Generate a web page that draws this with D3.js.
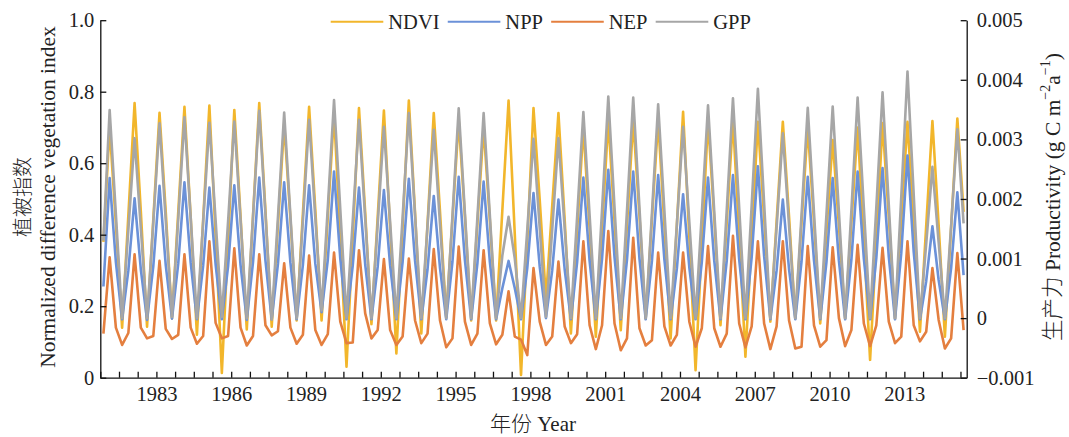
<!DOCTYPE html>
<html>
<head>
<meta charset="utf-8">
<title>NDVI and productivity, 1981-2015</title>
<style>
  body { margin: 0; background: #fff; }
  svg text { font-family: "Liberation Serif", "Noto Sans CJK SC", serif; fill: #222; }
  .cjk { font-weight: 300; }
</style>
</head>
<body>
<svg width="1069" height="437"></svg>
<script src="https://d3js.org/d3.v7.min.js"></script>
<script>
// one value per season: spring, summer, autumn, winter (2015 ends in autumn)
var years = d3.range(1981, 2016);
var yearLabels = ["1983", "1986", "1989", "1992", "1995", "1998", "2001", "2004", "2007", "2010", "2013"];
var leftTicks = [0, 0.2, 0.4, 0.6, 0.8, 1.0];
var rightTicks = [-0.001, 0, 0.001, 0.002, 0.003, 0.004, 0.005];

// NDVI (left axis)
var ndvi = [
  0.38,0.70,0.43,0.14,  0.454,0.768,0.466,0.143,  0.442,0.741,0.464,0.166,  0.462,0.758,0.449,0.12,
  0.441,0.761,0.397,0.013,  0.381,0.749,0.452,0.135,  0.452,0.768,0.466,0.143,  0.427,0.71,0.445,0.16,
  0.459,0.758,0.469,0.16,  0.45,0.74,0.396,0.031,  0.393,0.754,0.462,0.15,  0.449,0.747,0.418,0.068,
  0.422,0.775,0.46,0.124,  0.432,0.74,0.465,0.17,  0.445,0.72,0.45,0.16,  0.43,0.70,0.44,0.16,
  0.468,0.775,0.40,0.008,  0.381,0.754,0.497,0.22,  0.48,0.74,0.442,0.124,  0.412,0.70,0.418,0.115,
  0.418,0.72,0.437,0.133,  0.427,0.72,0.453,0.165,  0.443,0.72,0.425,0.11,  0.427,0.744,0.393,0.021,
  0.37,0.72,0.444,0.147,  0.434,0.72,0.40,0.059,  0.388,0.716,0.447,0.157,  0.437,0.716,0.451,0.165,
  0.433,0.70,0.436,0.152,  0.409,0.665,0.425,0.165,  0.433,0.70,0.385,0.05,  0.381,0.712,0.449,0.165,
  0.441,0.716,0.433,0.129,  0.424,0.718,0.427,0.115,  0.42,0.725,0.464
];

// productivity, g C m-2 a-1 (right axis)
var npp = [
  0.00053,0.00235,0.00094,-0.00002,  0.0008,0.00201,0.00082,-0.00003,  0.00087,0.00222,0.00089,-0.00001,  0.00091,0.00228,0.00093,-0.00002,
  0.00088,0.00219,0.0009,-0.00002,  0.00087,0.00223,0.00089,-0.00003,  0.00094,0.00236,0.00096,-0.00002,  0.00091,0.00228,0.00093,-0.00002,
  0.00089,0.00223,0.00091,0.0001,  0.00098,0.00246,0.001,-0.00002,  0.00088,0.00219,0.0009,-0.00002,  0.00086,0.00215,0.00088,-0.00002,
  0.00094,0.00234,0.00096,-0.00002,  0.00082,0.00205,0.00084,-0.00002,  0.00095,0.00237,0.00097,-0.00002,  0.00092,0.00229,0.00094,-0.00002,
  0.0005,0.00096,0.0005,-0.00002,  0.00084,0.0021,0.00086,0,  0.0008,0.00199,0.00082,-0.00002,  0.00094,0.00236,0.00096,-0.00002,
  0.001,0.00249,0.00102,-0.00002,  0.00098,0.00246,0.001,-0.00002,  0.00096,0.0024,0.00098,-0.00002,  0.00083,0.00208,0.00085,-0.00002,
  0.00094,0.00236,0.00096,-0.00002,  0.00096,0.0024,0.00098,-0.00002,  0.00102,0.00255,0.00104,-0.00002,  0.0008,0.00199,0.00082,-0.00002,
  0.00095,0.00237,0.00097,-0.00002,  0.00094,0.00235,0.00096,-0.00002,  0.00098,0.00246,0.001,-0.00002,  0.00101,0.00252,0.00103,-0.00002,
  0.00109,0.00273,0.00111,-0.00002,  0.00062,0.00154,0.00064,-0.00002,  0.00084,0.00211,0.00072
];

var nep = [
  -0.00026,0.00102,-0.00016,-0.00045,  -0.00025,0.00107,-0.00016,-0.00034,  -0.0003,0.00096,-0.00018,-0.00035,  -0.00028,0.00107,-0.00016,-0.00043,
  -0.0003,0.00129,-0.00008,-0.00034,  -0.0003,0.00117,-0.00016,-0.00046,  -0.0003,0.00107,-0.00012,-0.00029,  -0.00022,0.00092,-0.00016,-0.00043,
  -0.00028,0.00105,-0.0002,-0.00045,  -0.00027,0.0011,-0.00006,-0.00042,  -0.00041,0.00114,0.00008,-0.00034,  -0.0002,0.00099,-0.0002,-0.00045,
  -0.00031,0.001,-0.00004,-0.00042,  -0.00026,0.00116,-0.00004,-0.00049,  -0.00034,0.0012,-0.00006,-0.00045,  -0.00026,0.00114,-0.00009,-0.00044,
  -0.00028,0.00045,-0.00031,-0.00036,  -0.00062,0.00084,-0.00006,-0.00045,  -0.00031,0.00095,-0.00014,-0.00042,  -0.00027,0.00129,-0.00012,-0.00052,
  -0.00012,0.00146,-0.00009,-0.00054,  -0.00034,0.00135,-0.00017,-0.00046,  -0.00037,0.0011,-0.00014,-0.00046,  -0.00028,0.0011,-0.00006,-0.00048,
  -0.00017,0.00121,-0.00017,-0.00048,  -0.00026,0.00138,-0.00009,-0.00049,  -0.00014,0.00129,-0.00009,-0.00052,  -0.00014,0.00129,-0.00004,-0.00051,
  -0.00048,0.00121,-0.00012,-0.00048,  -0.00037,0.00119,0,-0.00047,  -0.0002,0.00123,-0.00009,-0.00047,  -0.00012,0.00118,-0.00006,-0.00042,
  -0.00031,0.00129,-0.00012,-0.00039,  -0.00023,0.00084,-0.00003,-0.00051,  -0.00034,0.00109,-0.0002
];

var gpp = [
  0.0013,0.00349,0.00174,0,  0.00148,0.00302,0.00151,0,  0.0016,0.00327,0.00164,0.00002,  0.00165,0.00337,0.00169,0,
  0.00161,0.00328,0.00164,0.00002,  0.00162,0.0033,0.00165,0,  0.0017,0.00348,0.00174,-0.00002,  0.00169,0.00345,0.00173,0,
  0.00163,0.00333,0.00167,0.00013,  0.00186,0.00366,0.00183,0,  0.00163,0.00333,0.00167,0,  0.00157,0.00321,0.00161,0,
  0.00169,0.00344,0.00172,0,  0.00155,0.00316,0.00158,0,  0.00172,0.00352,0.00176,0,  0.00169,0.00344,0.00172,0,
  0.00105,0.0017,0.001,0,  0.00148,0.00301,0.00151,0.00002,  0.00148,0.00302,0.00151,0,  0.0017,0.00346,0.00173,0,
  0.00182,0.00372,0.00186,0,  0.00181,0.0037,0.00185,0,  0.00176,0.00359,0.0018,0,  0.00157,0.00321,0.00161,0,
  0.00175,0.00357,0.00179,0,  0.00181,0.00369,0.00185,0,  0.00189,0.00385,0.00193,0,  0.00152,0.0031,0.00155,0,
  0.00173,0.00353,0.00177,0,  0.00174,0.00355,0.00178,0,  0.00181,0.0037,0.00185,0,  0.00186,0.00379,0.0019,0,
  0.00203,0.00414,0.00207,0,  0.00124,0.00254,0.00127,0,  0.00155,0.00317,0.00159
];

var series = [
  {name: "NDVI", values: ndvi, side: "left",  color: "#F2B62B"},
  {name: "NPP",  values: npp,  side: "right", color: "#6B91D8"},
  {name: "NEP",  values: nep,  side: "right", color: "#E47F3F"},
  {name: "GPP",  values: gpp,  side: "right", color: "#A6A6A6"}
];

var svg = d3.select("svg"),
    plotL = 100.3, plotR = 966.7, plotT = 20.2, plotB = 377.7;

// x in season index, first spring at 0
var x = d3.scaleLinear()
    .domain([-0.5, years.length * 4 - 1.5])
    .range([plotL, plotR]);

var yL = d3.scaleLinear().domain([0, 1]).range([plotB, plotT]);
var yR = d3.scaleLinear().domain([-0.001, 0.005]).range([plotB, plotT]);

// ticks every 3 seasons, year labels every 12
var xTicks = d3.range(-0.5, years.length * 4 - 1, 3);
function yearPos(y) { return (y - years[0]) * 4 + 0.5; }
var labelAt = {};
yearLabels.forEach(function(l) { labelAt[yearPos(+l)] = l; });

function styleAxis(g) {
  g.attr("font-size", null).attr("font-family", null);
  g.selectAll("path, line").attr("stroke", "#111").attr("stroke-width", 1.3);
  g.selectAll("text").attr("font-size", 20.5).attr("fill", "#222");
}

// lines
series.forEach(function(s) {
  var y = s.side === "left" ? yL : yR;
  svg.append("path")
      .datum(s.values)
      .attr("fill", "none")
      .attr("stroke", s.color)
      .attr("stroke-width", 2.6)
      .attr("stroke-linejoin", "round")
      .attr("d", d3.line()
        .x(function(d, i) { return x(i); })
        .y(function(d) { return y(d); }));
});

svg.append("g")
    .attr("transform", "translate(0," + plotB + ")")
    .call(d3.axisBottom(x)
      .tickValues(xTicks)
      .tickSizeInner(-6)
      .tickSizeOuter(0)
      .tickPadding(9)
      .tickFormat(function(d) { return labelAt[d] || ""; }))
    .call(styleAxis);

svg.append("g")
    .attr("transform", "translate(" + plotL + ",0)")
    .call(d3.axisLeft(yL)
      .tickValues(leftTicks)
      .tickSizeInner(-6)
      .tickSizeOuter(0)
      .tickPadding(6)
      .tickFormat(function(d) { return d === 0 ? "0" : d3.format(".1f")(d); }))
    .call(styleAxis);

svg.append("g")
    .attr("transform", "translate(" + plotR + ",0)")
    .call(d3.axisRight(yR)
      .tickValues(rightTicks)
      .tickSizeInner(-6)
      .tickSizeOuter(0)
      .tickPadding(10)
      .tickFormat(function(d) { return Math.abs(d) < 1e-9 ? "0" : d3.format(".3f")(d); }))
    .call(styleAxis);

// legend
var lx = 330.7, ly = 21.7;
var legend = svg.append("g");
series.forEach(function(s) {
  legend.append("line")
      .attr("x1", lx).attr("x2", lx + 52.6)
      .attr("y1", ly).attr("y2", ly)
      .attr("stroke", s.color)
      .attr("stroke-width", 2);
  var t = legend.append("text")
      .attr("x", lx + 57.6)
      .attr("y", ly + 7)
      .attr("font-size", 20.5)
      .text(s.name);
  lx += 57.6 + t.node().getComputedTextLength() + 8.2;
});

// axis titles
svg.append("text")
    .attr("class", "cjk")
    .attr("transform", "translate(23,197) rotate(-90)")
    .attr("text-anchor", "middle")
    .attr("dominant-baseline", "central")
    .attr("font-size", 20)
    .text("植被指数");

svg.append("text")
    .attr("transform", "translate(48,197) rotate(-90)")
    .attr("text-anchor", "middle")
    .attr("dominant-baseline", "central")
    .attr("font-size", 21.5)
    .text("Normalized difference vegetation index");

var rt = svg.append("text")
    .attr("transform", "translate(1053,197) rotate(-90)")
    .attr("text-anchor", "middle")
    .attr("dominant-baseline", "central")
    .attr("font-size", 21.5);
rt.append("tspan").attr("class", "cjk").text("生产力");
rt.append("tspan").text(" Productivity (g C m");
rt.append("tspan").attr("font-size", 14).attr("dy", -8).text("−2");
rt.append("tspan").attr("dy", 8).text("a");
rt.append("tspan").attr("font-size", 14).attr("dy", -8).text("−1");
rt.append("tspan").attr("dy", 8).text(")");

var xt = svg.append("text")
    .attr("x", 533)
    .attr("y", 431)
    .attr("text-anchor", "middle")
    .attr("font-size", 21);
xt.append("tspan").attr("class", "cjk").text("年份");
xt.append("tspan").text(" Year");
</script>
</body>
</html>
